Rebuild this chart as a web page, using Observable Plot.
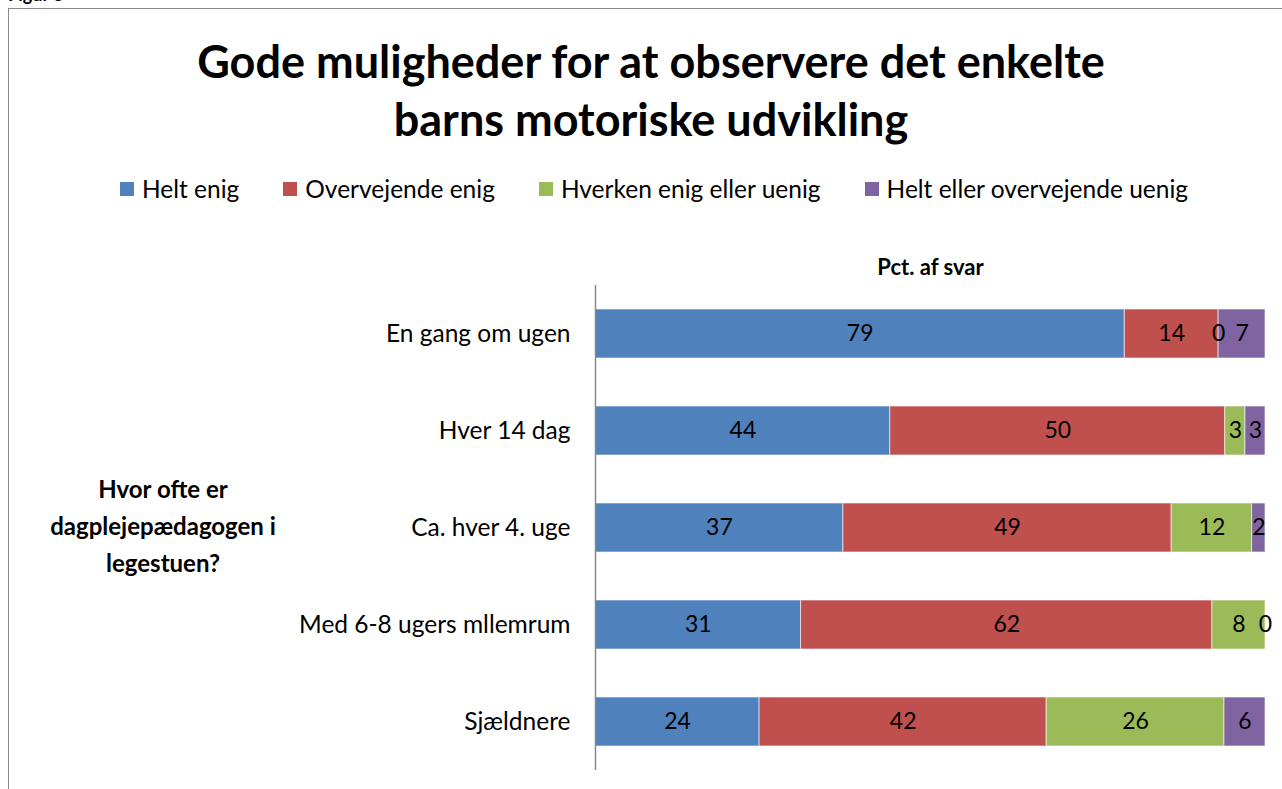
<!DOCTYPE html>
<html>
<head>
<meta charset="utf-8">
<script src="https://cdn.jsdelivr.net/npm/d3@7"></script>
<script src="https://cdn.jsdelivr.net/npm/@observablehq/plot@0.6"></script>
<style>
  html, body { margin: 0; padding: 0; background: #fff; overflow: hidden; }
  body { width: 1282px; height: 789px; position: relative; font-family: Lato, "Open Sans", sans-serif; color: #000; }
  #fig { position: absolute; left: 8px; top: -15px; font-weight: bold; font-size: 18px; line-height: 18px; }
  #frame { position: absolute; left: 8px; top: 8px; width: 1300px; height: 800px; border: 1.5px solid #8a8a8a; box-sizing: border-box; }
  #title { position: absolute; left: 0; top: 32px; width: 1302px; text-align: center; font-weight: bold; font-size: 45px; line-height: 58px; }
  #legend { position: absolute; top: 174px; left: 0; width: 1308px; display: flex; justify-content: center; gap: 44px; font-size: 24.5px; }
  #legend .item { display: flex; align-items: center; gap: 8px; }
  #legend .sw { width: 14px; height: 14px; display: inline-block; }
  #ylabel { position: absolute; left: 13px; top: 470px; width: 300px; text-align: center; font-weight: bold; font-size: 24px; line-height: 37px; }
  #chart { position: absolute; left: 0; top: 240px; }
</style>
</head>
<body>
<div id="fig">Figur 3</div>
<div id="frame"></div>
<div id="title">Gode muligheder for at observere det enkelte<br>barns motoriske udvikling</div>
<div id="legend"></div>
<div id="ylabel">Hvor ofte er<br>dagplejepædagogen i<br>legestuen?</div>
<div id="chart"></div>
<script>
const categories = ["En gang om ugen", "Hver 14 dag", "Ca. hver 4. uge", "Med 6-8 ugers mllemrum", "Sjældnere"];
const series = ["Helt enig", "Overvejende enig", "Hverken enig eller uenig", "Helt eller overvejende uenig"];
const colors = ["#4F81BD", "#C0504D", "#9BBB59", "#8064A2"];
const heltEnig = [79, 44, 37, 31, 24];
const overvejendeEnig = [14, 50, 49, 62, 42];
const hverken = [0, 3, 12, 8, 26];
const uenig = [7, 3, 2, 0, 6];
const axisTitle = "Pct. af svar";

const seriesValues = [heltEnig, overvejendeEnig, hverken, uenig];
const data = [];
categories.forEach((c, i) => {
  series.forEach((s, j) => data.push({cat: c, series: s, value: seriesValues[j][i]}));
});

// legend
const legend = document.getElementById("legend");
series.forEach((s, j) => {
  const it = document.createElement("div");
  it.className = "item";
  it.innerHTML = `<span class="sw" style="background:${colors[j]}"></span><span>${s}</span>`;
  legend.appendChild(it);
});

const stackOpts = {x: "value", y: "cat", z: "series", offset: "normalize", order: series};

const chart = Plot.plot({
  width: 1282,
  height: 549,
  marginLeft: 595,
  marginRight: 17,
  marginTop: 45,
  marginBottom: 19,
  style: {fontFamily: "Lato, 'Open Sans', sans-serif", fontSize: "24.5px", color: "#000", background: "transparent"},
  x: {axis: null, domain: [0, 1]},
  y: {domain: categories, paddingInner: 0.49, paddingOuter: 0.245, label: null, tickSize: 0, tickPadding: 25},
  color: {domain: series, range: colors},
  marks: [
    Plot.barX(data, Plot.stackX({...stackOpts, fill: "series", stroke: "white", strokeOpacity: 0.6, strokeWidth: 1})),
    Plot.text(data, Plot.stackX({...stackOpts, text: d => String(d.value), fill: "#000", fontSize: 23})),
    Plot.ruleX([0], {stroke: "#888", strokeWidth: 1.5}),
    Plot.text([axisTitle], {frameAnchor: "top", dy: -26, fontWeight: "bold", fontSize: 22, fill: "#000"})
  ]
});
document.getElementById("chart").appendChild(chart);
</script>
</body>
</html>
